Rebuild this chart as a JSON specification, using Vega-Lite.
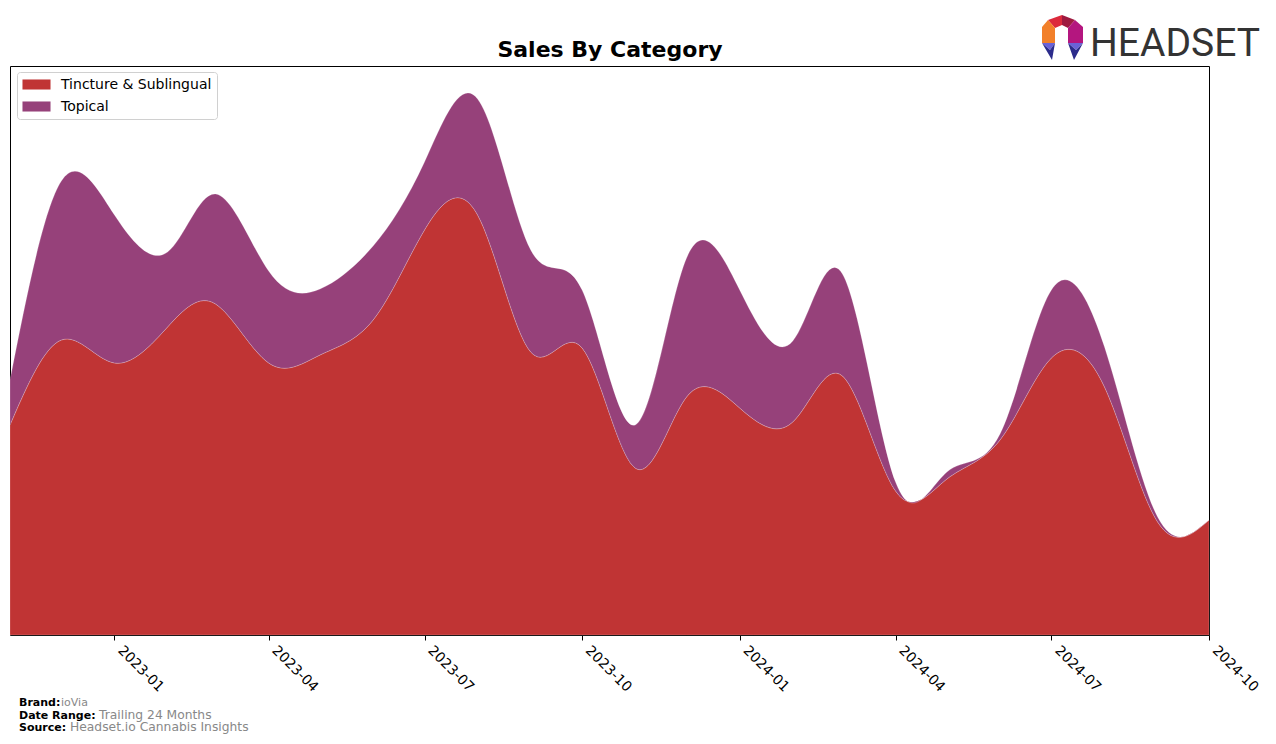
{
  "$schema": "https://vega.github.io/schema/vega-lite/v6.json",
  "autosize": {"type": "none"},
  "width": 1199,
  "height": 569,
  "padding": {"left": 10, "top": 66, "right": 67, "bottom": 109},
  "background": "white",
  "config": {
    "view": {"stroke": "black", "strokeWidth": 1},
    "font": "DejaVu Sans"
  },
  "layer": [
    {
      "data": {"values": [
        {"date": "2022-11-01", "category": "Tincture & Sublingual", "sales": 210},
        {"date": "2022-12-01", "category": "Tincture & Sublingual", "sales": 295},
        {"date": "2023-01-01", "category": "Tincture & Sublingual", "sales": 272},
        {"date": "2023-02-01", "category": "Tincture & Sublingual", "sales": 308},
        {"date": "2023-03-01", "category": "Tincture & Sublingual", "sales": 331},
        {"date": "2023-04-01", "category": "Tincture & Sublingual", "sales": 272},
        {"date": "2023-05-01", "category": "Tincture & Sublingual", "sales": 280},
        {"date": "2023-06-01", "category": "Tincture & Sublingual", "sales": 315},
        {"date": "2023-07-01", "category": "Tincture & Sublingual", "sales": 405},
        {"date": "2023-08-01", "category": "Tincture & Sublingual", "sales": 420},
        {"date": "2023-09-01", "category": "Tincture & Sublingual", "sales": 283},
        {"date": "2023-10-01", "category": "Tincture & Sublingual", "sales": 287},
        {"date": "2023-11-01", "category": "Tincture & Sublingual", "sales": 167},
        {"date": "2023-12-01", "category": "Tincture & Sublingual", "sales": 238},
        {"date": "2024-01-01", "category": "Tincture & Sublingual", "sales": 227},
        {"date": "2024-02-01", "category": "Tincture & Sublingual", "sales": 213},
        {"date": "2024-03-01", "category": "Tincture & Sublingual", "sales": 259},
        {"date": "2024-04-01", "category": "Tincture & Sublingual", "sales": 144},
        {"date": "2024-05-01", "category": "Tincture & Sublingual", "sales": 156},
        {"date": "2024-06-01", "category": "Tincture & Sublingual", "sales": 195},
        {"date": "2024-07-01", "category": "Tincture & Sublingual", "sales": 277},
        {"date": "2024-08-01", "category": "Tincture & Sublingual", "sales": 248},
        {"date": "2024-09-01", "category": "Tincture & Sublingual", "sales": 113},
        {"date": "2024-10-01", "category": "Tincture & Sublingual", "sales": 115},
        {"date": "2022-11-01", "category": "Topical", "sales": 45},
        {"date": "2022-12-01", "category": "Topical", "sales": 159},
        {"date": "2023-01-01", "category": "Topical", "sales": 148},
        {"date": "2023-02-01", "category": "Topical", "sales": 75},
        {"date": "2023-03-01", "category": "Topical", "sales": 110},
        {"date": "2023-04-01", "category": "Topical", "sales": 92},
        {"date": "2023-05-01", "category": "Topical", "sales": 66},
        {"date": "2023-06-01", "category": "Topical", "sales": 74},
        {"date": "2023-07-01", "category": "Topical", "sales": 68},
        {"date": "2023-08-01", "category": "Topical", "sales": 116},
        {"date": "2023-09-01", "category": "Topical", "sales": 102},
        {"date": "2023-10-01", "category": "Topical", "sales": 58},
        {"date": "2023-11-01", "category": "Topical", "sales": 43},
        {"date": "2023-12-01", "category": "Topical", "sales": 139},
        {"date": "2024-01-01", "category": "Topical", "sales": 118},
        {"date": "2024-02-01", "category": "Topical", "sales": 81},
        {"date": "2024-03-01", "category": "Topical", "sales": 102},
        {"date": "2024-04-01", "category": "Topical", "sales": 9},
        {"date": "2024-05-01", "category": "Topical", "sales": 7},
        {"date": "2024-06-01", "category": "Topical", "sales": 6},
        {"date": "2024-07-01", "category": "Topical", "sales": 68},
        {"date": "2024-08-01", "category": "Topical", "sales": 40},
        {"date": "2024-09-01", "category": "Topical", "sales": 5},
        {"date": "2024-10-01", "category": "Topical", "sales": 0}
      ]},
      "mark": {"type": "area", "interpolate": "natural", "stroke": "#ffffff", "strokeWidth": 0.4, "strokeOpacity": 0.5},
      "encoding": {
        "x": {
          "field": "date", "type": "temporal",
          "scale": {"type": "utc", "domain": ["2022-11-01", "2024-10-01"], "nice": false},
          "axis": {
            "title": null, "labelExpr": "utcFormat(datum.value, '%Y-%m')",
            "tickCount": {"interval": "month", "step": 3},
            "labelAngle": 45, "labelAlign": "left", "labelBaseline": "top", "labelOffset": 10,
            "labelFontSize": 14, "labelColor": "black", "labelFont": "DejaVu Sans",
            "labelPadding": 3, "tickColor": "black", "tickSize": 5, "grid": false, "domain": false,
            "labelOverlap": false, "labelBound": false, "labelFlush": false
          }
        },
        "y": {
          "field": "sales", "type": "quantitative", "stack": "zero",
          "scale": {"domain": [0, 569], "nice": false, "zero": true},
          "axis": null
        },
        "color": {
          "field": "category", "type": "nominal",
          "scale": {"domain": ["Tincture & Sublingual", "Topical"], "range": ["#c03434", "#96417a"]},
          "legend": {
            "title": null, "orient": "none", "legendX": 7, "legendY": 6,
            "fillColor": "white", "strokeColor": "#d0d0d0", "cornerRadius": 3, "padding": 5,
            "symbolType": "M-1.87,-0.67H1.87V0.67H-1.87Z", "symbolSize": 225, "symbolStrokeWidth": 0,
            "symbolOpacity": 1, "symbolOffset": 7,
            "labelFontSize": 14, "labelFont": "DejaVu Sans", "labelColor": "black", "labelOffset": 17,
            "rowPadding": 7
          }
        },
        "order": {"field": "category", "sort": "ascending"}
      }
    },
    {
      "data": {"values": [{"t": "Sales By Category"}]},
      "mark": {"type": "text", "font": "DejaVu Sans", "fontWeight": "bold", "fontSize": 22, "color": "black", "align": "center", "baseline": "alphabetic"},
      "encoding": {"text": {"field": "t"}, "x": {"value": 600}, "y": {"value": -9}}
    },
    {
      "data": {"values": [{"t": "Brand:"}]},
      "mark": {"type": "text", "font": "DejaVu Sans", "fontWeight": "bold", "fontSize": 11, "color": "black", "align": "left", "baseline": "alphabetic"},
      "encoding": {"text": {"field": "t"}, "x": {"value": 9}, "y": {"value": 640}}
    },
    {
      "data": {"values": [{"t": "ioVia"}]},
      "mark": {"type": "text", "font": "DejaVu Sans", "fontSize": 11, "color": "#888888", "align": "left", "baseline": "alphabetic"},
      "encoding": {"text": {"field": "t"}, "x": {"value": 51}, "y": {"value": 640}}
    },
    {
      "data": {"values": [{"t": "Date Range:"}]},
      "mark": {"type": "text", "font": "DejaVu Sans", "fontWeight": "bold", "fontSize": 11, "color": "black", "align": "left", "baseline": "alphabetic"},
      "encoding": {"text": {"field": "t"}, "x": {"value": 9}, "y": {"value": 653}}
    },
    {
      "data": {"values": [{"t": "Trailing 24 Months"}]},
      "mark": {"type": "text", "font": "DejaVu Sans", "fontSize": 12.3, "color": "#888888", "align": "left", "baseline": "alphabetic"},
      "encoding": {"text": {"field": "t"}, "x": {"value": 89}, "y": {"value": 653}}
    },
    {
      "data": {"values": [{"t": "Source:"}]},
      "mark": {"type": "text", "font": "DejaVu Sans", "fontWeight": "bold", "fontSize": 11, "color": "black", "align": "left", "baseline": "alphabetic"},
      "encoding": {"text": {"field": "t"}, "x": {"value": 9}, "y": {"value": 665}}
    },
    {
      "data": {"values": [{"t": "Headset.io Cannabis Insights"}]},
      "mark": {"type": "text", "font": "DejaVu Sans", "fontSize": 12.3, "color": "#888888", "align": "left", "baseline": "alphabetic"},
      "encoding": {"text": {"field": "t"}, "x": {"value": 60}, "y": {"value": 665}}
    },
    {
      "data": {"values": [{"t": "HEADSET"}]},
      "mark": {"type": "text", "font": "Roboto", "fontSize": 39, "color": "#333333", "align": "right", "baseline": "alphabetic"},
      "encoding": {"text": {"field": "t"}, "x": {"value": 1250}, "y": {"value": -10}}
    },
    {
      "data": {"values": [{"p": "top-left"}]},
      "mark": {"type": "point", "filled": true, "opacity": 1, "strokeWidth": 0, "size": 4, "color": "#dc2a3c", "shape": "M-14,-18L0,-23L0,-13L-7,-10Z"},
      "encoding": {"x": {"value": 1052}, "y": {"value": -28}}
    },
    {
      "data": {"values": [{"p": "top-right"}]},
      "mark": {"type": "point", "filled": true, "opacity": 1, "strokeWidth": 0, "size": 4, "color": "#9e1a40", "shape": "M0,-23L13,-18L6,-10L0,-13Z"},
      "encoding": {"x": {"value": 1052}, "y": {"value": -28}}
    },
    {
      "data": {"values": [{"p": "left"}]},
      "mark": {"type": "point", "filled": true, "opacity": 1, "strokeWidth": 0, "size": 4, "color": "#f2802a", "shape": "M-20,-11L-14,-18L-7,-10L-7,5L-20,5Z"},
      "encoding": {"x": {"value": 1052}, "y": {"value": -28}}
    },
    {
      "data": {"values": [{"p": "right"}]},
      "mark": {"type": "point", "filled": true, "opacity": 1, "strokeWidth": 0, "size": 4, "color": "#b4167f", "shape": "M13,-18L21,-11L21,5L6,5L6,-10Z"},
      "encoding": {"x": {"value": 1052}, "y": {"value": -28}}
    },
    {
      "data": {"values": [{"p": "bottom-left"}]},
      "mark": {"type": "point", "filled": true, "opacity": 1, "strokeWidth": 0, "size": 4, "color": "#6a62d8", "shape": "M-20,5L-7,5L-12,12Z"},
      "encoding": {"x": {"value": 1052}, "y": {"value": -28}}
    },
    {
      "data": {"values": [{"p": "bottom-left-tip"}]},
      "mark": {"type": "point", "filled": true, "opacity": 1, "strokeWidth": 0, "size": 4, "color": "#2c2c8c", "shape": "M-20,5L-12,12L-7,5L-10,22Z"},
      "encoding": {"x": {"value": 1052}, "y": {"value": -28}}
    },
    {
      "data": {"values": [{"p": "bottom-right"}]},
      "mark": {"type": "point", "filled": true, "opacity": 1, "strokeWidth": 0, "size": 4, "color": "#6a62d8", "shape": "M6,5L21,5L14,12Z"},
      "encoding": {"x": {"value": 1052}, "y": {"value": -28}}
    },
    {
      "data": {"values": [{"p": "bottom-right-tip"}]},
      "mark": {"type": "point", "filled": true, "opacity": 1, "strokeWidth": 0, "size": 4, "color": "#2c2c8c", "shape": "M6,5L14,12L21,5L12,22Z"},
      "encoding": {"x": {"value": 1052}, "y": {"value": -28}}
    }
  ]
}
